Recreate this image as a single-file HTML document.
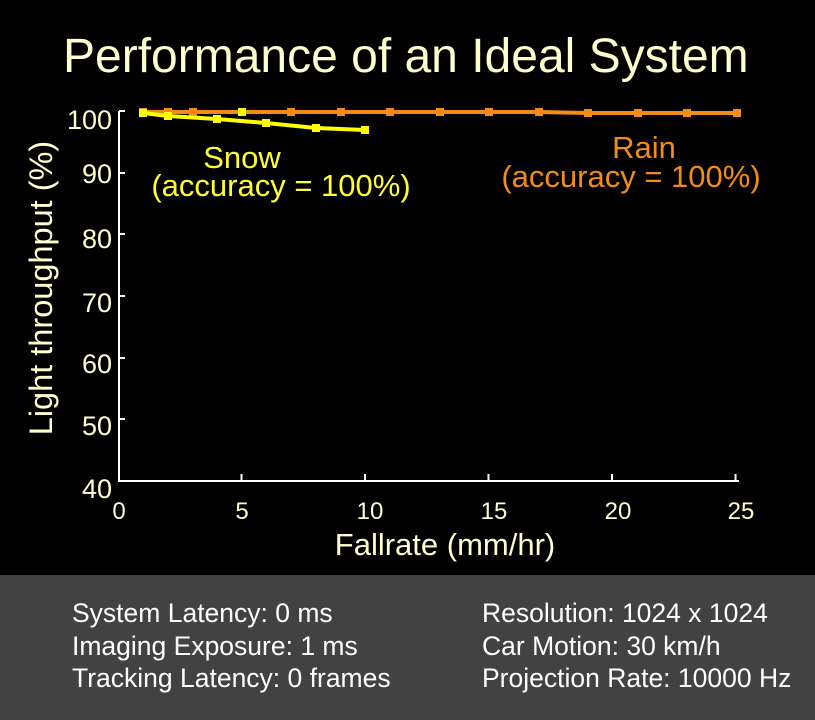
<!DOCTYPE html>
<html><head><style>
body{margin:0;width:815px;height:720px;background:#000;overflow:hidden;font-family:"Liberation Sans",sans-serif;position:relative}
</style></head><body>
<svg width="815" height="720" style="position:absolute;left:0;top:0" font-family="Liberation Sans, sans-serif">
<rect x="0" y="575" width="815" height="145" fill="#424242"/>
<text x="63" y="72" fill="#ffffcc" font-size="48">Performance of an Ideal System</text>
<g stroke="#fff" stroke-width="2" fill="none">
<path d="M119 111 V481 H739"/>
<path d="M119 111h6M119 173h6M119 234h6M119 296h6M119 358h6M119 419h6"/>
<path d="M241.5 481v-7M365 481v-7M488.5 481v-7M612 481v-7M735.5 481v-7"/>
</g>
<g fill="#ffffcc" font-size="27" text-anchor="end">
<text x="112" y="129">100</text><text x="112" y="183">90</text><text x="112" y="248">80</text><text x="112" y="312">70</text><text x="112" y="373">60</text><text x="112" y="435">50</text><text x="112" y="498">40</text>
</g>
<g fill="#ffffcc" font-size="24" text-anchor="middle">
<text x="119" y="519">0</text><text x="242" y="519">5</text><text x="370" y="519">10</text><text x="494" y="519">15</text><text x="618" y="519">20</text><text x="741" y="519">25</text>
</g>
<text x="445" y="555" fill="#ffffcc" font-size="31" text-anchor="middle">Fallrate (mm/hr)</text>
<text transform="translate(52,288) rotate(-90)" fill="#ffffcc" font-size="32.5" text-anchor="middle">Light throughput (%)</text>
<polyline fill="none" stroke="#f28c14" stroke-width="4" points="143,112 168,112 193,112 242,112 291,112 341,112 390,112 440,112 489,112 539,112 588,113 638,113 687,113 737,113"/>
<g fill="#f28c14">
<rect x="139" y="108" width="8" height="8"/><rect x="164" y="108" width="8" height="8"/><rect x="189" y="108" width="8" height="8"/><rect x="287" y="108" width="8" height="8"/><rect x="337" y="108" width="8" height="8"/><rect x="386" y="108" width="8" height="8"/><rect x="436" y="108" width="8" height="8"/><rect x="485" y="108" width="8" height="8"/><rect x="535" y="108" width="8" height="8"/><rect x="584" y="109" width="8" height="8"/><rect x="634" y="109" width="8" height="8"/><rect x="683" y="109" width="8" height="8"/><rect x="733" y="109" width="8" height="8"/>
</g>
<polyline fill="none" stroke="#ffff00" stroke-width="4" points="143,113 168,116 217,119 266,123 316,128 365,130"/>
<g fill="#ffff00">
<rect x="139" y="109" width="8" height="8"/><rect x="164" y="112" width="8" height="8"/><rect x="213" y="115" width="8" height="8"/><rect x="262" y="119" width="8" height="8"/><rect x="312" y="124" width="8" height="8"/><rect x="361" y="126" width="8" height="8"/><rect x="238" y="108" width="8" height="8"/>
</g>
<g fill="#ffff33" font-size="31" text-anchor="middle">
<text x="242" y="168">Snow</text><text x="281" y="196">(accuracy = 100%)</text>
</g>
<g fill="#f28c14" font-size="31" text-anchor="middle">
<text x="644" y="158">Rain</text><text x="631" y="187">(accuracy = 100%)</text>
</g>
<g fill="#fff" font-size="26.5">
<text x="72" y="622">System Latency: 0 ms</text>
<text x="72" y="655">Imaging Exposure: 1 ms</text>
<text x="72" y="687">Tracking Latency: 0 frames</text>
<text x="482" y="622">Resolution: 1024 x 1024</text>
<text x="482" y="655">Car Motion: 30 km/h</text>
<text x="482" y="687">Projection Rate: 10000 Hz</text>
</g>
</svg>
</body></html>
